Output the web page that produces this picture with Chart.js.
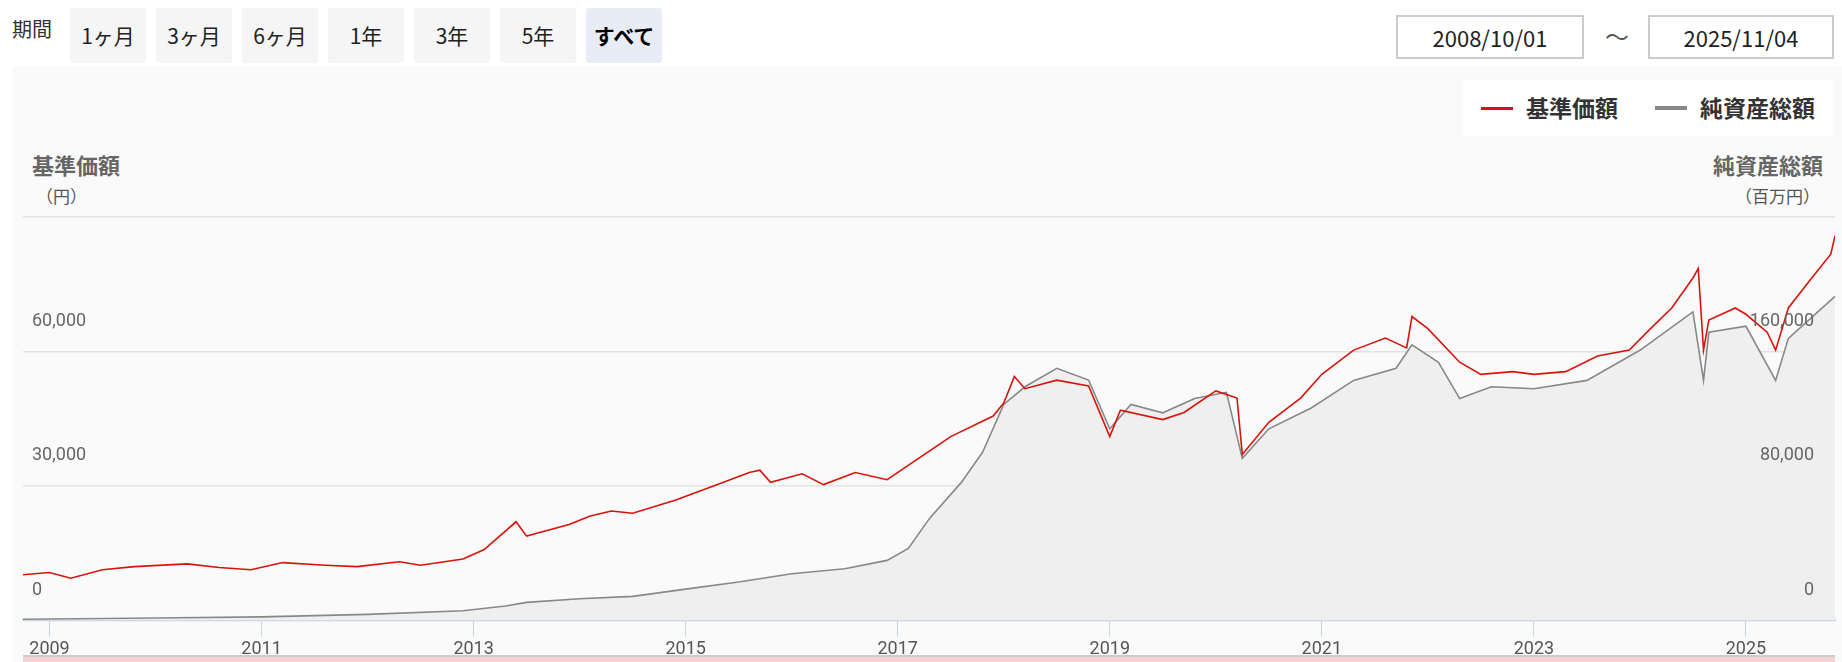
<!DOCTYPE html>
<html><head><meta charset="utf-8">
<script src="https://cdn.jsdelivr.net/npm/chart.js@4"></script>
<style>
body{margin:0;width:1842px;height:662px;background:#fff;font-family:"Noto Sans CJK JP",Roboto,sans-serif;position:relative;overflow:hidden;color:#222}
.bg{position:absolute;left:12px;top:66px;width:1830px;height:596px;background:#fafafa}
.abs{position:absolute}
.btn{position:absolute;top:8px;height:55px;width:76px;background:#f5f5f5;border-radius:3px;font-size:21px;line-height:55px;text-align:center;color:#222}
.sel{background:#e8ecf6;font-weight:bold;color:#000}
.date{position:absolute;top:15px;height:40px;border:2px solid #ccc;background:#fff;font-size:22px;line-height:40px;text-align:center;color:#222;box-sizing:content-box}
.legend{position:absolute;left:1463px;top:80px;width:370px;height:56px;background:#fff;font-size:23px;font-weight:bold;color:#333}
.ttl{font-size:22px;font-weight:bold;color:#666}
.sub{font-size:17px;color:#555}
canvas{position:absolute;left:0;top:200px}
</style></head><body>
<div class="bg"></div>
<div class="abs" style="left:12px;top:14px;font-size:20px;color:#333">期間</div>
<div class="btn" style="left:70px">1ヶ月</div>
<div class="btn" style="left:156px">3ヶ月</div>
<div class="btn" style="left:242px">6ヶ月</div>
<div class="btn" style="left:328px">1年</div>
<div class="btn" style="left:414px">3年</div>
<div class="btn" style="left:500px">5年</div>
<div class="btn sel" style="left:586px">すべて</div>
<div class="date" style="left:1396px;width:184px">2008/10/01</div>
<div class="abs" style="left:1605px;top:18px;font-size:24px;color:#555">～</div>
<div class="date" style="left:1648px;width:182px">2025/11/04</div>
<div class="legend">
 <span class="abs" style="left:18px;top:27px;width:32px;height:3px;background:#d9130b"></span>
 <span class="abs" style="left:63px;top:10px">基準価額</span>
 <span class="abs" style="left:192px;top:26px;width:32px;height:4px;background:#888"></span>
 <span class="abs" style="left:237px;top:10px">純資産総額</span>
</div>
<div class="abs ttl" style="left:32px;top:148px">基準価額</div>
<div class="abs sub" style="left:36px;top:183px">（円）</div>
<div class="abs ttl" style="right:19px;top:148px">純資産総額</div>
<div class="abs sub" style="right:22px;top:183px">（百万円）</div>
<div class="abs" style="left:23px;top:655px;width:1812px;height:7px;background:#f6d3d3;border-top:2px solid #ccc"></div>
<canvas id="c" width="1842" height="462"></canvas>
<script>
const xTicks=[2009,2011,2013,2015,2017,2019,2021,2023,2025];
const leftTicks=[0,30000,60000,90000];
const leftLabels=["0","30,000","60,000",""];
const rightTicks=[0,80000,160000];
const rightLabels=["0","80,000","160,000"];
const priceX=[2008.75,2009.0,2009.2,2009.5,2009.8,2010.3,2010.6,2010.9,2011.2,2011.6,2011.9,2012.3,2012.5,2012.9,2013.1,2013.4,2013.5,2013.9,2014.1,2014.3,2014.5,2014.9,2015.3,2015.6,2015.7,2015.8,2016.1,2016.3,2016.6,2016.9,2017.2,2017.5,2017.9,2018.0,2018.1,2018.2,2018.5,2018.8,2019.0,2019.1,2019.5,2019.7,2020.0,2020.2,2020.25,2020.5,2020.8,2021.0,2021.3,2021.6,2021.8,2021.85,2022.0,2022.3,2022.5,2022.8,2023.0,2023.3,2023.6,2023.9,2024.1,2024.3,2024.5,2024.55,2024.6,2024.65,2024.9,2025.0,2025.2,2025.28,2025.4,2025.6,2025.8,2025.84];
const priceY=[10200,10700,9400,11300,12000,12600,11800,11300,12900,12300,12000,13100,12300,13700,15800,22000,18800,21400,23300,24400,23900,26800,30300,33000,33500,30800,32700,30300,33000,31400,36200,41000,45600,48500,54400,51700,53600,52300,41000,46900,44800,46400,51200,49600,37000,44200,49600,54900,60300,63000,60800,67800,65100,57600,54900,55500,54900,55500,59000,60300,65100,69700,76400,78500,60300,67000,69700,68300,64300,60300,69700,75800,81700,85800];
const navX=[2008.75,2010,2011,2012,2012.9,2013.3,2013.5,2014,2014.5,2015,2015.5,2016,2016.5,2016.9,2017.1,2017.3,2017.6,2017.8,2018.0,2018.2,2018.5,2018.8,2019.0,2019.2,2019.5,2019.8,2020.1,2020.25,2020.5,2020.9,2021.3,2021.7,2021.85,2022.1,2022.3,2022.6,2023.0,2023.5,2024.0,2024.5,2024.6,2024.65,2025.0,2025.28,2025.4,2025.84];
const navY=[700,1400,2100,3600,5700,8600,10700,12900,14300,18600,22800,27800,30700,35700,42800,60700,82100,100000,128500,139000,150000,143000,114000,128500,123500,132000,135700,96400,114000,126400,142800,150000,164000,153500,132000,139000,137800,142800,160700,183500,142800,171400,175000,142800,167800,192800];

const labelPlugin={id:'lbl',afterDraw(ch){
 const c=ch.ctx,a=ch.chartArea,yl=ch.scales.y,yr=ch.scales.y2;
 c.save();c.font='18px Roboto, sans-serif';c.fillStyle='#666';c.textBaseline='middle';
 c.textAlign='left';leftTicks.forEach((v,i)=>c.fillText(leftLabels[i],a.left+9,yl.getPixelForValue(v)-30));
 c.textAlign='right';rightTicks.forEach((v,i)=>c.fillText(rightLabels[i],a.right-21,yr.getPixelForValue(v)-30));
 c.restore();}};
new Chart(document.getElementById('c'),{
 type:'line',
 data:{datasets:[
  {label:'基準価額',data:priceX.map((x,i)=>({x,y:priceY[i]})),borderColor:'#d9130b',borderWidth:1.6,pointRadius:0,yAxisID:'y',order:1,tension:0},
  {label:'純資産総額',data:navX.map((x,i)=>({x,y:navY[i]})),borderColor:'#888',borderWidth:1.6,pointRadius:0,yAxisID:'y2',fill:'origin',backgroundColor:'#efefef',order:2,tension:0}
 ]},
 options:{responsive:false,animation:false,
  layout:{padding:{left:23,right:7,top:17,bottom:0}},
  plugins:{legend:{display:false},tooltip:{enabled:false}},
  scales:{
   x:{type:'linear',min:2008.75,max:2025.84,
     afterBuildTicks(s){s.ticks=xTicks.map(v=>({value:v}));},
     ticks:{callback:v=>String(v),font:{size:18,family:'Roboto'},color:'#555',maxRotation:0,padding:2},
     grid:{drawOnChartArea:false,color:'#c9d6ea',tickLength:16},
     border:{color:'#c9d6ea',width:2}},
   y:{position:'left',min:0,max:90000,
     afterBuildTicks(s){s.ticks=leftTicks.map(v=>({value:v}));},
     ticks:{display:false},grid:{color:'#e2e2e2',drawTicks:false,lineWidth:1.5},border:{display:false},
     afterFit(s){s.width=0;}},
   y2:{position:'right',min:0,max:240000,display:false}
  }},
 plugins:[labelPlugin]
});
</script>
</body></html>
